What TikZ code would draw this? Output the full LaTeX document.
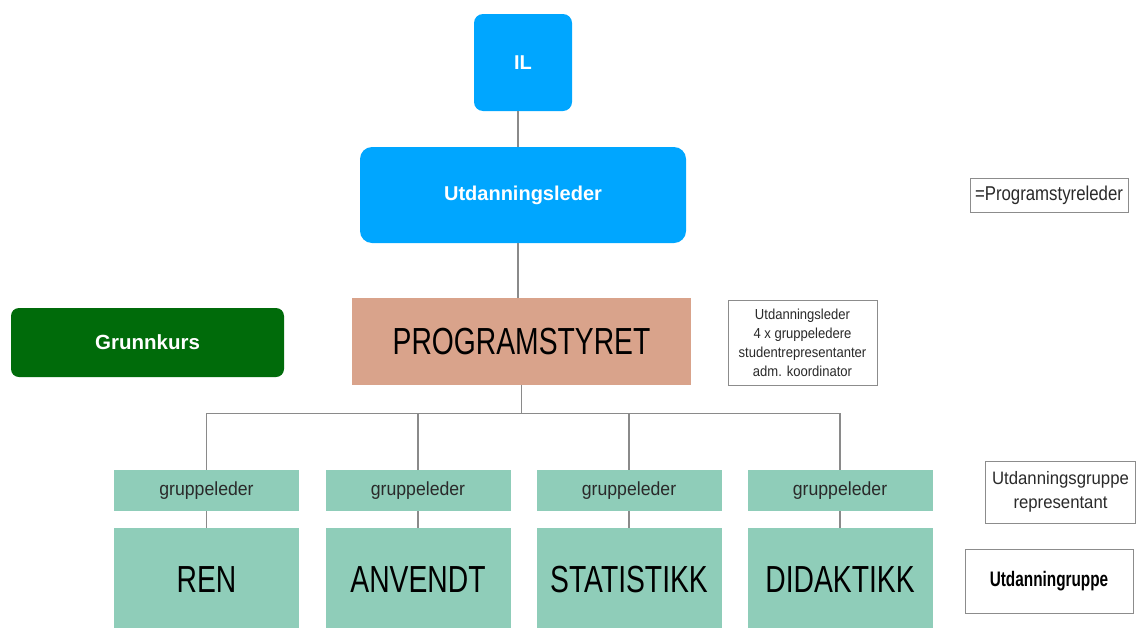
\documentclass[tikz,border=0pt]{standalone}
\usepackage{fontspec}
\setmainfont{Liberation Sans}
\newfontfamily\condbig[FakeStretch=0.75]{Liberation Sans}
\newfontfamily\condmid[FakeStretch=0.93]{Liberation Sans}
\newfontfamily\condsmall[FakeStretch=0.84]{Liberation Sans}
\newfontfamily\condinfo[FakeStretch=0.9]{Liberation Sans}
\newfontfamily\condbold[FakeStretch=0.73]{Liberation Sans Bold}
\definecolor{ilblue}{HTML}{00A6FF}
\definecolor{grgreen}{HTML}{006B0A}
\definecolor{salmon}{HTML}{D9A38B}
\definecolor{teal}{HTML}{8FCDB9}
\definecolor{linegray}{HTML}{8A8A8A}
\definecolor{boxgray}{HTML}{8C8C8C}
\definecolor{txtgray}{HTML}{2A2A2A}
\tikzset{
  bluebox/.style={draw=none, fill=ilblue, rounded corners=9pt, text=white, font=\fontsize{20}{22}\selectfont\bfseries, inner sep=0pt},
  greenbox/.style={draw=none, fill=grgreen, rounded corners=8pt, text=white, font=\fontsize{20.5}{22}\selectfont\bfseries, inner sep=0pt},
  bigbox/.style={draw=none, inner sep=0pt, text=black, font=\condbig\fontsize{37.7}{40}\selectfont},
  gbox/.style={draw=none, fill=teal, inner sep=0pt, minimum width=185pt, minimum height=41pt, text=txtgray, font=\condmid\fontsize{19}{20}\selectfont},
  notebox/.style={draw=boxgray, line width=0.8pt, fill=white, inner sep=0pt, align=center},
  conn/.style={draw=linegray, line width=1.2pt},
}
\begin{document}
\begin{tikzpicture}[x=1pt,y=-1pt]
\useasboundingbox (0,0) rectangle (1136,627);
% top chain
\node[bluebox, minimum width=98pt, minimum height=97pt] (IL) at (523,62.5) {IL};
\node[bluebox, rounded corners=12pt, minimum width=326pt, minimum height=96pt] (UL) at (523,195) {Utdanningsleder};
\node[bigbox, fill=salmon, minimum width=339pt, minimum height=87pt] (PS) at (521.5,341.5) {PROGRAMSTYRET};
\node[greenbox, minimum width=273pt, minimum height=69pt] (GK) at (147.5,342.5) {Grunnkurs};
\draw[conn] ([xshift=-5pt]IL.south) -- ([xshift=-5pt]UL.north);
\draw[conn] ([xshift=-5pt]UL.south) -- ([xshift=-3.5pt]PS.north);
% notes
\node[notebox, minimum width=149pt, minimum height=85pt, text=txtgray, font=\condinfo\fontsize{14.5}{19}\selectfont] (info) at (802.5,342.5)
  {Utdanningsleder\\4 x gruppeledere\\studentrepresentanter\\adm. koordinator};
\node[notebox, minimum width=158pt, minimum height=34pt, text=txtgray, font=\condsmall\fontsize{20}{22}\selectfont] (psl) at (1049,195) {=Programstyreleder};
\node[notebox, minimum width=150pt, minimum height=62pt, text=txtgray, font=\condmid\fontsize{18}{24}\selectfont] (rep) at (1060.5,492) {Utdanningsgruppe\\representant};
\node[notebox, minimum width=168pt, minimum height=64pt, text=black, font=\condbold\fontsize{21}{22}\selectfont] (ug) at (1049,581) {Utdanningruppe};
% groups
\node[gbox] (g1) at (206.5,490.5) {gruppeleder};
\node[gbox] (g2) at (418,490.5) {gruppeleder};
\node[gbox] (g3) at (629,490.5) {gruppeleder};
\node[gbox] (g4) at (840,490.5) {gruppeleder};
\node[bigbox, fill=teal, minimum width=185pt, minimum height=104pt] (b1) at (206.5,580) {REN};
\node[bigbox, fill=teal, minimum width=185pt, minimum height=104pt] (b2) at (418,580) {ANVENDT};
\node[bigbox, fill=teal, minimum width=185pt, minimum height=104pt] (b3) at (629,580) {STATISTIKK};
\node[bigbox, fill=teal, minimum width=185pt, minimum height=104pt] (b4) at (840,580) {DIDAKTIKK};
% tree connectors
\coordinate (bus) at ([yshift=-28pt]PS.south);
\draw[conn] (PS.south) -- (bus);
\draw[conn] (g1.north |- bus) -- (g4.north |- bus);
\foreach \i in {1,2,3,4}{
  \draw[conn] (g\i.north |- bus) -- (g\i.north);
  \draw[conn] (g\i.south) -- (b\i.north);
}
\end{tikzpicture}
\end{document}
